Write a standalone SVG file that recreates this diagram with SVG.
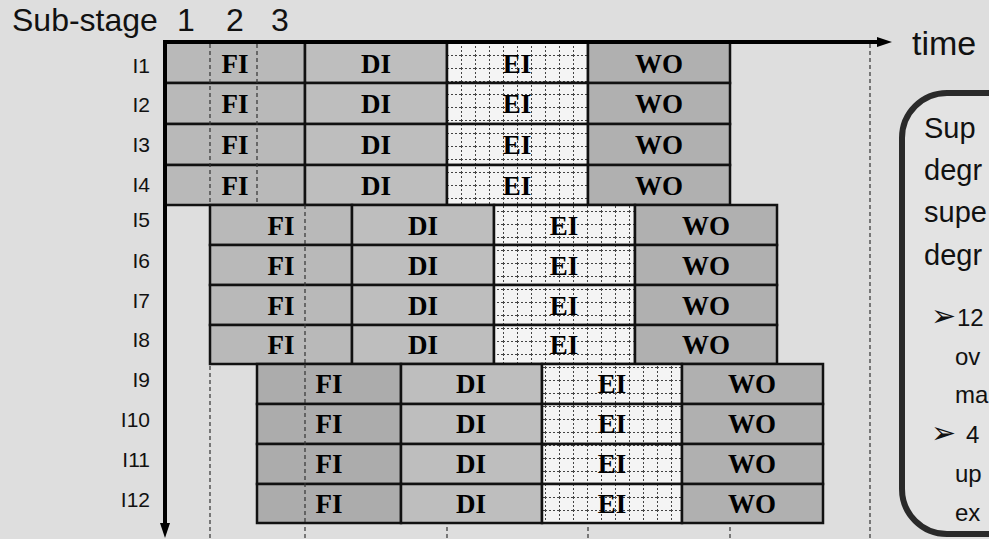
<svg xmlns="http://www.w3.org/2000/svg" width="989" height="539" viewBox="0 0 989 539">
<style>
.bg{fill:#dedede}
.cell{stroke:#111;stroke-width:2.5}
.fi{fill:#b9b9b9}
.fi3{fill:#acacac}
.di{fill:#bebebe}
.ei{fill:url(#eiGrid)}
.wo{fill:#b0b0b0}
.lbl{font-family:"Liberation Serif","Times New Roman",serif;font-weight:bold;font-size:27px;fill:#000;text-anchor:middle}
.row{font-family:"Liberation Sans",Arial,sans-serif;font-size:21px;fill:#111;text-anchor:end}
.hdr{font-family:"Liberation Sans",Arial,sans-serif;font-size:32px;fill:#111}
.grid{stroke:#333;stroke-width:1.2;stroke-dasharray:4 3;fill:none}
.axis{stroke:#000;stroke-width:4;fill:none}
.note{font-family:"Liberation Sans",Arial,sans-serif;font-size:29px;fill:#111}
.bul{font-family:"Liberation Sans",Arial,sans-serif;font-size:24px;fill:#111}
.arr{font-family:"DejaVu Sans",sans-serif;font-size:30px;fill:#111}
</style>
<defs>
<pattern id="eiGrid" patternUnits="userSpaceOnUse" x="447" y="42" width="14" height="13">
<rect width="14" height="13" fill="#f4f4f4"/>
<path d="M0.5 0V13M0 0.5H14" stroke="#444" stroke-width="1" stroke-dasharray="2 2" fill="none"/>
</pattern>
<marker id="ah" viewBox="0 0 15 10" markerWidth="15" markerHeight="10" refX="1" refY="5" orient="auto" markerUnits="userSpaceOnUse">
<path d="M0 0L15 5L0 10z" fill="#000"/>
</marker>
</defs>
<rect class="bg" x="0" y="0" width="989" height="539"/>

<g id="gridlines">
<path class="grid" d="M210 44V539M257 44V205M305 44V539M447 44V539M588 44V539M730 44V539M870 44V539"/>
</g>

<g id="headers">
<text class="hdr" x="12" y="31">Sub-stage</text>
<text class="hdr" x="186" y="31" text-anchor="middle">1</text>
<text class="hdr" x="235" y="31" text-anchor="middle">2</text>
<text class="hdr" x="280" y="31" text-anchor="middle">3</text>
<text x="912" y="55" font-family="Liberation Sans,Arial,sans-serif" font-size="34" fill="#111">time</text>
</g>

<!-- Group 1 -->
<g id="I1">
<text class="row" x="150" y="73">I1</text>
<g id="I1-FI"><rect class="cell fi" x="165" y="42" width="140" height="41"/><text class="lbl" x="235" y="73">FI</text></g>
<g id="I1-DI"><rect class="cell di" x="305" y="42" width="142" height="41"/><text class="lbl" x="376" y="73">DI</text></g>
<g id="I1-EI"><rect class="cell ei" x="447" y="42" width="141" height="41"/><text class="lbl" x="517" y="73">EI</text></g>
<g id="I1-WO"><rect class="cell wo" x="588" y="42" width="142" height="41"/><text class="lbl" x="659" y="73">WO</text></g>
</g>
<g id="I2">
<text class="row" x="150" y="112">I2</text>
<g id="I2-FI"><rect class="cell fi" x="165" y="83" width="140" height="41"/><text class="lbl" x="235" y="113">FI</text></g>
<g id="I2-DI"><rect class="cell di" x="305" y="83" width="142" height="41"/><text class="lbl" x="376" y="113">DI</text></g>
<g id="I2-EI"><rect class="cell ei" x="447" y="83" width="141" height="41"/><text class="lbl" x="517" y="113">EI</text></g>
<g id="I2-WO"><rect class="cell wo" x="588" y="83" width="142" height="41"/><text class="lbl" x="659" y="113">WO</text></g>
</g>
<g id="I3">
<text class="row" x="150" y="152">I3</text>
<g id="I3-FI"><rect class="cell fi" x="165" y="124" width="140" height="41"/><text class="lbl" x="235" y="154">FI</text></g>
<g id="I3-DI"><rect class="cell di" x="305" y="124" width="142" height="41"/><text class="lbl" x="376" y="154">DI</text></g>
<g id="I3-EI"><rect class="cell ei" x="447" y="124" width="141" height="41"/><text class="lbl" x="517" y="154">EI</text></g>
<g id="I3-WO"><rect class="cell wo" x="588" y="124" width="142" height="41"/><text class="lbl" x="659" y="154">WO</text></g>
</g>
<g id="I4">
<text class="row" x="150" y="192">I4</text>
<g id="I4-FI"><rect class="cell fi" x="165" y="165" width="140" height="40"/><text class="lbl" x="235" y="195">FI</text></g>
<g id="I4-DI"><rect class="cell di" x="305" y="165" width="142" height="40"/><text class="lbl" x="376" y="195">DI</text></g>
<g id="I4-EI"><rect class="cell ei" x="447" y="165" width="141" height="40"/><text class="lbl" x="517" y="195">EI</text></g>
<g id="I4-WO"><rect class="cell wo" x="588" y="165" width="142" height="40"/><text class="lbl" x="659" y="195">WO</text></g>
</g>

<!-- Group 2 -->
<g id="I5">
<text class="row" x="150" y="227">I5</text>
<g id="I5-FI"><rect class="cell fi" x="210" y="205" width="142" height="40"/><text class="lbl" x="281" y="235">FI</text></g>
<g id="I5-DI"><rect class="cell di" x="352" y="205" width="142" height="40"/><text class="lbl" x="423" y="235">DI</text></g>
<g id="I5-EI"><rect class="cell ei" x="494" y="205" width="141" height="40"/><text class="lbl" x="564" y="235">EI</text></g>
<g id="I5-WO"><rect class="cell wo" x="635" y="205" width="142" height="40"/><text class="lbl" x="706" y="235">WO</text></g>
</g>
<g id="I6">
<text class="row" x="150" y="268">I6</text>
<g id="I6-FI"><rect class="cell fi" x="210" y="245" width="142" height="40"/><text class="lbl" x="281" y="275">FI</text></g>
<g id="I6-DI"><rect class="cell di" x="352" y="245" width="142" height="40"/><text class="lbl" x="423" y="275">DI</text></g>
<g id="I6-EI"><rect class="cell ei" x="494" y="245" width="141" height="40"/><text class="lbl" x="564" y="275">EI</text></g>
<g id="I6-WO"><rect class="cell wo" x="635" y="245" width="142" height="40"/><text class="lbl" x="706" y="275">WO</text></g>
</g>
<g id="I7">
<text class="row" x="150" y="308">I7</text>
<g id="I7-FI"><rect class="cell fi" x="210" y="285" width="142" height="40"/><text class="lbl" x="281" y="315">FI</text></g>
<g id="I7-DI"><rect class="cell di" x="352" y="285" width="142" height="40"/><text class="lbl" x="423" y="315">DI</text></g>
<g id="I7-EI"><rect class="cell ei" x="494" y="285" width="141" height="40"/><text class="lbl" x="564" y="315">EI</text></g>
<g id="I7-WO"><rect class="cell wo" x="635" y="285" width="142" height="40"/><text class="lbl" x="706" y="315">WO</text></g>
</g>
<g id="I8">
<text class="row" x="150" y="347">I8</text>
<g id="I8-FI"><rect class="cell fi" x="210" y="325" width="142" height="39"/><text class="lbl" x="281" y="354">FI</text></g>
<g id="I8-DI"><rect class="cell di" x="352" y="325" width="142" height="39"/><text class="lbl" x="423" y="354">DI</text></g>
<g id="I8-EI"><rect class="cell ei" x="494" y="325" width="141" height="39"/><text class="lbl" x="564" y="354">EI</text></g>
<g id="I8-WO"><rect class="cell wo" x="635" y="325" width="142" height="39"/><text class="lbl" x="706" y="354">WO</text></g>
</g>

<!-- Group 3 -->
<g id="I9">
<text class="row" x="150" y="387">I9</text>
<g id="I9-FI"><rect class="cell fi3" x="257" y="364" width="144" height="40"/><text class="lbl" x="329" y="393">FI</text></g>
<g id="I9-DI"><rect class="cell di" x="401" y="364" width="141" height="40"/><text class="lbl" x="471" y="393">DI</text></g>
<g id="I9-EI"><rect class="cell ei" x="542" y="364" width="140" height="40"/><text class="lbl" x="612" y="393">EI</text></g>
<g id="I9-WO"><rect class="cell wo" x="682" y="364" width="141" height="40"/><text class="lbl" x="752" y="393">WO</text></g>
</g>
<g id="I10">
<text class="row" x="150" y="427">I10</text>
<g id="I10-FI"><rect class="cell fi3" x="257" y="404" width="144" height="40"/><text class="lbl" x="329" y="433">FI</text></g>
<g id="I10-DI"><rect class="cell di" x="401" y="404" width="141" height="40"/><text class="lbl" x="471" y="433">DI</text></g>
<g id="I10-EI"><rect class="cell ei" x="542" y="404" width="140" height="40"/><text class="lbl" x="612" y="433">EI</text></g>
<g id="I10-WO"><rect class="cell wo" x="682" y="404" width="141" height="40"/><text class="lbl" x="752" y="433">WO</text></g>
</g>
<g id="I11">
<text class="row" x="150" y="467">I11</text>
<g id="I11-FI"><rect class="cell fi3" x="257" y="444" width="144" height="40"/><text class="lbl" x="329" y="473">FI</text></g>
<g id="I11-DI"><rect class="cell di" x="401" y="444" width="141" height="40"/><text class="lbl" x="471" y="473">DI</text></g>
<g id="I11-EI"><rect class="cell ei" x="542" y="444" width="140" height="40"/><text class="lbl" x="612" y="473">EI</text></g>
<g id="I11-WO"><rect class="cell wo" x="682" y="444" width="141" height="40"/><text class="lbl" x="752" y="473">WO</text></g>
</g>
<g id="I12">
<text class="row" x="150" y="507">I12</text>
<g id="I12-FI"><rect class="cell fi3" x="257" y="484" width="144" height="39"/><text class="lbl" x="329" y="513">FI</text></g>
<g id="I12-DI"><rect class="cell di" x="401" y="484" width="141" height="39"/><text class="lbl" x="471" y="513">DI</text></g>
<g id="I12-EI"><rect class="cell ei" x="542" y="484" width="140" height="39"/><text class="lbl" x="612" y="513">EI</text></g>
<g id="I12-WO"><rect class="cell wo" x="682" y="484" width="141" height="39"/><text class="lbl" x="752" y="513">WO</text></g>
</g>

<g id="sub-stage-lines">
<path class="grid" d="M210 44V205M257 44V205M305 205V364M305 364V523"/>
</g>

<g id="connectors">
<path class="axis" d="M163 42H878" marker-end="url(#ah)"/>
<path class="axis" d="M165 40V524" marker-end="url(#ah)"/>
</g>

<g id="note">
<rect x="902" y="93" width="160" height="441" rx="45" ry="45" fill="#e3e3e3" stroke="#2a2a2a" stroke-width="6"/>
<text class="note" x="924" y="138">Sup</text>
<text class="note" x="924" y="180">degr</text>
<text class="note" x="924" y="222">supe</text>
<text class="note" x="924" y="265">degr</text>
<text class="bul" y="326"><tspan class="arr" x="931">➢</tspan><tspan x="957">12</tspan></text>
<text class="bul" x="955" y="365">ov</text>
<text class="bul" x="955" y="403">ma</text>
<text class="bul" y="443"><tspan class="arr" x="931">➢</tspan><tspan x="966">4</tspan></text>
<text class="bul" x="955" y="482">up</text>
<text class="bul" x="955" y="521">ex</text>
</g>
</svg>
